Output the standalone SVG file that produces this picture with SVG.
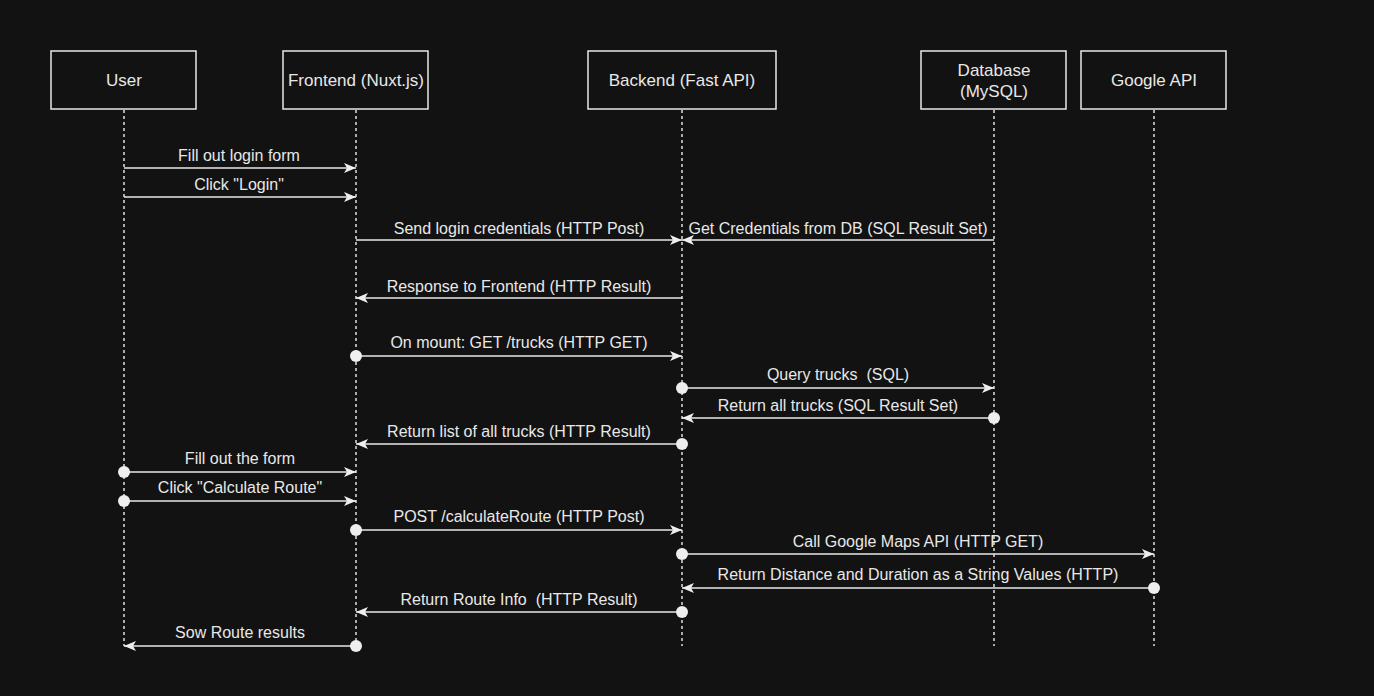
<svg xmlns="http://www.w3.org/2000/svg" width="1374" height="696" viewBox="0 0 1374 696">
<style>
.bg{fill:#121212}
.box{fill:#121212;stroke:#e8e8e8;stroke-width:1.5}
.life{stroke:#e0e0e0;stroke-width:1.5;stroke-dasharray:3 3;fill:none}
.msg{stroke:#e8e8e8;stroke-width:1.5;fill:none}
.lbl{font-family:"Liberation Sans",Arial,sans-serif;font-size:16px;fill:#e8e8e8;text-anchor:middle;dominant-baseline:central;white-space:pre}
.nl{font-family:"Liberation Sans",Arial,sans-serif;font-size:17px;fill:#e8e8e8;text-anchor:middle;dominant-baseline:central}
.dot{fill:#eeeeee}
</style>
<defs>
<marker id="arr" viewBox="0 0 12 10" refX="12" refY="5" markerWidth="12" markerHeight="10" markerUnits="userSpaceOnUse" orient="auto">
<path d="M0,0 L12,5 L0,10 L3,5 Z" fill="#eeeeee"/>
</marker>
</defs>
<rect class="bg" x="0" y="0" width="1374" height="696"/>

<g id="lifelines">
<line class="life" x1="124" y1="110" x2="124" y2="646"/>
<line class="life" x1="356" y1="110" x2="356" y2="646"/>
<line class="life" x1="682" y1="110" x2="682" y2="646"/>
<line class="life" x1="994" y1="110" x2="994" y2="646"/>
<line class="life" x1="1154" y1="110" x2="1154" y2="646"/>
</g>

<g id="user"><rect class="box" x="51" y="51" width="145" height="58"/><text class="nl" x="124" y="80">User</text></g>
<g id="frontend"><rect class="box" x="283" y="51" width="145" height="58"/><text class="nl" x="356" y="80">Frontend (Nuxt.js)</text></g>
<g id="backend"><rect class="box" x="588" y="51" width="188" height="58"/><text class="nl" x="682" y="80">Backend (Fast API)</text></g>
<g id="database"><rect class="box" x="921" y="51" width="145" height="58"/><text class="nl" x="994" y="70">Database</text><text class="nl" x="994" y="91">(MySQL)</text></g>
<g id="google"><rect class="box" x="1081" y="51" width="145" height="58"/><text class="nl" x="1154" y="80">Google API</text></g>

<g id="connectors">
<line class="msg" x1="124" y1="168" x2="356" y2="168" marker-end="url(#arr)"/>
<text class="lbl" x="239" y="155">Fill out login form</text>
<line class="msg" x1="124" y1="197" x2="356" y2="197" marker-end="url(#arr)"/>
<text class="lbl" x="239" y="184">Click "Login"</text>

<line class="msg" x1="356" y1="240" x2="682" y2="240" marker-end="url(#arr)"/>
<text class="lbl" x="519" y="228">Send login credentials (HTTP Post)</text>
<line class="msg" x1="994" y1="240" x2="682" y2="240" marker-end="url(#arr)"/>
<text class="lbl" x="838" y="228">Get Credentials from DB (SQL Result Set)</text>

<line class="msg" x1="682" y1="298" x2="356" y2="298" marker-end="url(#arr)"/>
<text class="lbl" x="519" y="286">Response to Frontend (HTTP Result)</text>

<line class="msg" x1="356" y1="356" x2="682" y2="356" marker-end="url(#arr)"/>
<circle class="dot" cx="356" cy="356" r="6"/>
<text class="lbl" x="519" y="342">On mount: GET /trucks (HTTP GET)</text>

<line class="msg" x1="682" y1="388" x2="994" y2="388" marker-end="url(#arr)"/>
<circle class="dot" cx="682" cy="388" r="6"/>
<text class="lbl" x="838" y="374" xml:space="preserve">Query trucks  (SQL)</text>

<line class="msg" x1="994" y1="418" x2="682" y2="418" marker-end="url(#arr)"/>
<circle class="dot" cx="994" cy="418" r="6"/>
<text class="lbl" x="838" y="405">Return all trucks (SQL Result Set)</text>

<line class="msg" x1="682" y1="444" x2="356" y2="444" marker-end="url(#arr)"/>
<circle class="dot" cx="682" cy="444" r="6"/>
<text class="lbl" x="519" y="431">Return list of all trucks (HTTP Result)</text>

<line class="msg" x1="124" y1="472" x2="356" y2="472" marker-end="url(#arr)"/>
<circle class="dot" cx="124" cy="472" r="6"/>
<text class="lbl" x="240" y="458">Fill out the form</text>

<line class="msg" x1="124" y1="501" x2="356" y2="501" marker-end="url(#arr)"/>
<circle class="dot" cx="124" cy="501" r="6"/>
<text class="lbl" x="240" y="487">Click "Calculate Route"</text>

<line class="msg" x1="356" y1="530" x2="682" y2="530" marker-end="url(#arr)"/>
<circle class="dot" cx="356" cy="530" r="6"/>
<text class="lbl" x="519" y="516">POST /calculateRoute (HTTP Post)</text>

<line class="msg" x1="682" y1="554" x2="1154" y2="554" marker-end="url(#arr)"/>
<circle class="dot" cx="682" cy="554" r="6"/>
<text class="lbl" x="918" y="541">Call Google Maps API (HTTP GET)</text>

<line class="msg" x1="1154" y1="588" x2="682" y2="588" marker-end="url(#arr)"/>
<circle class="dot" cx="1154" cy="588" r="6"/>
<text class="lbl" x="918" y="574">Return Distance and Duration as a String Values (HTTP)</text>

<line class="msg" x1="682" y1="612" x2="356" y2="612" marker-end="url(#arr)"/>
<circle class="dot" cx="682" cy="612" r="6"/>
<text class="lbl" x="519" y="599" xml:space="preserve">Return Route Info  (HTTP Result)</text>

<line class="msg" x1="356" y1="646" x2="124" y2="646" marker-end="url(#arr)"/>
<circle class="dot" cx="356" cy="646" r="6"/>
<text class="lbl" x="240" y="632">Sow Route results</text>
</g>
</svg>
